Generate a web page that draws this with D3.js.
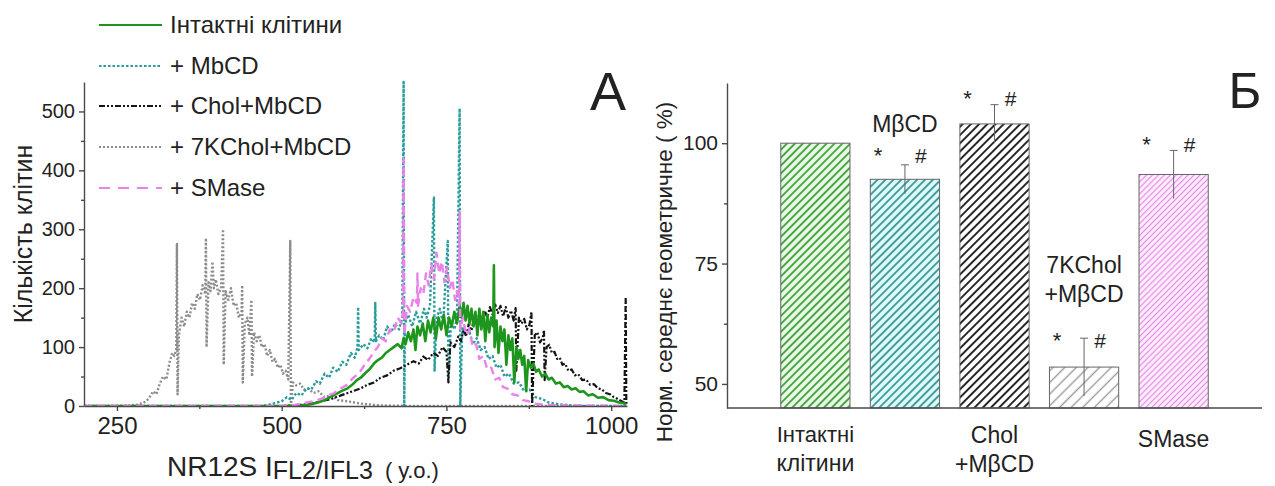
<!DOCTYPE html>
<html>
<head>
<meta charset="utf-8">
<script src="https://cdn.jsdelivr.net/npm/d3@7"></script>
<style>
    body { margin: 0; background: #fff; }
    svg { display: block; }
    text { font-family: "Liberation Sans", Arial, sans-serif; fill: #222; }
</style>
</head>
<body>
<svg id="chart" width="1275" height="486"></svg>
<script>
// Panel A: histograms, [channel, number of cells]
const intact = [[200,0],[500,0],[530,1],[545,3],[555,6],[565,10],[575,16],[585,22],[592,26],[600,30],[607,36],[614,44],[620,48],[627,56],[633,62],[640,72],[646,78],[652,82],[658,90],[664,95],[670,100],[676,105],[682,98],[685,115],[688,105],[692,125],[696,110],[700,130],[703,95],[706,135],[710,120],[714,140],[718,110],[722,145],[726,125],[730,150],[734,115],[738,150],[742,130],[746,155],[750,120],[754,150],[758,135],[762,160],[766,140],[770,170],[773,150],[776,175],[779,145],[782,170],[785,140],[788,165],[791,135],[794,160],[797,120],[800,165],[803,130],[806,160],[809,110],[812,155],[815,125],[818,150],[821,135],[822,239],[823,100],[826,145],[829,90],[832,135],[835,110],[838,130],[841,70],[844,120],[847,95],[850,115],[853,40],[856,100],[859,80],[862,95],[865,70],[868,85],[871,25],[874,78],[878,65],[882,72],[886,58],[890,62],[895,50],[900,55],[905,45],[910,48],[916,38],[922,40],[928,32],[934,34],[940,28],[946,30],[952,24],[958,25],[965,18],[972,20],[980,14],[988,15],[996,10],[1004,9],[1012,6],[1018,5],[1023,3]];

const mbcd = [[200,0],[470,0],[480,2],[490,5],[500,8],[508,15],[515,10],[522,22],[530,18],[538,30],[545,28],[552,42],[558,38],[565,55],[572,48],[578,65],[585,58],[592,75],[598,70],[605,90],[611,82],[615,100],[616,168],[617,95],[624,105],[630,98],[636,115],[641,108],[642,175],[643,110],[648,120],[654,112],[660,135],[666,125],[672,140],[678,130],[683,150],[685,550],[686,0],[687,140],[692,155],[698,135],[704,160],[710,140],[716,165],[720,150],[725,170],[731,354],[732,60],[735,150],[740,165],[745,140],[752,280],[753,50],[757,145],[762,130],[766,150],[770,505],[771,0],[774,135],[778,120],[784,130],[790,105],[796,115],[802,95],[808,100],[814,80],[820,85],[826,65],[832,70],[838,50],[845,55],[852,38],[860,40],[868,25],[876,28],[885,15],[895,12],[905,6],[920,3],[940,1],[960,0],[1023,0]];

const cholMbcd = [[200,0],[500,0],[530,2],[545,4],[560,8],[575,12],[590,18],[600,22],[610,26],[620,30],[630,36],[640,40],[650,48],[660,52],[670,60],[680,64],[690,70],[700,76],[708,72],[715,84],[722,78],[730,90],[737,85],[744,100],[750,92],[753,40],[756,108],[762,100],[768,118],[772,110],[776,130],[780,118],[784,140],[788,128],[792,150],[796,138],[800,158],[804,145],[808,162],[812,150],[816,168],[820,155],[824,172],[828,158],[832,170],[836,152],[840,168],[844,150],[848,162],[852,145],[855,166],[856,60],[860,150],[864,140],[868,148],[872,130],[876,138],[879,160],[880,0],[884,120],[888,125],[892,108],[896,115],[898,129],[899,44],[902,100],[906,104],[910,90],[914,92],[918,80],[922,82],[926,70],[930,72],[935,60],[940,62],[945,52],[950,54],[956,44],[962,45],[968,36],[974,37],[980,30],[986,28],[992,22],[998,20],[1004,15],[1010,12],[1016,8],[1020,6],[1022,185],[1023,0]];

const kcholMbcd = [[200,0],[260,0],[280,2],[290,5],[298,12],[305,25],[310,20],[315,38],[320,50],[325,45],[330,75],[334,90],[337,85],[340,95],[341,275],[342,20],[344,120],[348,150],[352,135],[356,160],[360,150],[364,175],[368,165],[372,190],[376,180],[380,205],[384,190],[385,285],[386,100],[389,210],[392,195],[395,245],[397,200],[400,215],[404,190],[408,200],[411,300],[412,70],[415,195],[419,180],[423,200],[427,170],[431,175],[435,150],[439,160],[440,205],[441,40],[444,140],[448,150],[451,120],[454,180],[455,50],[458,125],[462,110],[466,120],[470,100],[474,105],[478,85],[482,95],[486,75],[490,80],[494,65],[498,70],[502,55],[506,60],[510,45],[513,280],[514,0],[517,40],[522,35],[528,38],[534,28],[540,30],[548,22],[556,25],[565,15],[575,18],[585,10],[600,8],[620,4],[650,1],[700,0],[1023,0]];

const smase = [[200,0],[500,0],[520,2],[535,5],[548,8],[560,12],[570,18],[580,22],[590,30],[598,35],[606,45],[613,52],[620,60],[627,72],[633,80],[640,92],[646,100],[652,115],[658,110],[664,130],[670,125],[676,150],[682,140],[684,160],[685,420],[686,120],[690,170],[695,160],[700,185],[705,175],[706,225],[707,170],[711,200],[715,190],[719,225],[723,205],[727,240],[731,215],[735,260],[739,225],[743,245],[747,210],[751,235],[755,200],[759,215],[763,180],[766,195],[769,170],[770,330],[771,130],[775,150],[780,120],[785,130],[790,100],[795,105],[800,80],[806,85],[812,62],[818,65],[824,45],[830,48],[836,32],[842,30],[850,20],[858,18],[866,10],[875,8],[885,4],[900,2],[930,1],[1023,0]];

const seriesNames = ['Інтактні клітини', '+ MbCD', '+ Chol+MbCD', '+ 7KChol+MbCD', '+ SMase'];
const histXTicks = [250, 500, 750, 1000];
const histYTicks = [0, 100, 200, 300, 400, 500];

// Panel Б: normalised geometric mean
const barLabels = ['Інтактні клітини', '+ MβCD', 'Chol +MβCD', '7KChol +MβCD', 'SMase'];
const barValues = [100, 92.5, 104, 53.5, 93.5];
const barErrors = [0, 3, 4, 6, 5];
const barYTicks = [50, 75, 100];

const svg = d3.select('#chart');
const axisColor = '#4a4a4a';

// ---------- Panel A ----------
const x = d3.scaleLinear().domain([200, 1024]).range([84, 627]);
const y = d3.scaleLinear().domain([0, 550]).range([406, 82]);

// Style of each series (same order as seriesNames)
const styles = [
    {data: intact, color: '#1e961e', dash: null, width: 2.6},
    {data: mbcd, color: '#2a9c9c', dash: '2.5,2', width: 2.4},
    {data: cholMbcd, color: '#141414', dash: '6,2,2,2,2,2', width: 2.2},
    {data: kcholMbcd, color: '#8c8c8c', dash: '2,2', width: 2.4},
    {data: smase, color: '#ea82ea', dash: '8,5', width: 2.4}
];

svg.append('clipPath').attr('id', 'clipA')
    .append('rect').attr('x', 84).attr('y', 80).attr('width', 545).attr('height', 327);

const line = d3.line().x(d => x(d[0])).y(d => y(d[1]));

// Drawing order: gray, teal, black, green, pink
const plot = svg.append('g').attr('clip-path', 'url(#clipA)');
[3, 1, 2, 0, 4].forEach(i => {
    plot.append('path')
        .attr('d', line(styles[i].data))
        .attr('fill', 'none')
        .attr('stroke', styles[i].color)
        .attr('stroke-width', styles[i].width)
        .attr('stroke-dasharray', styles[i].dash)
        .attr('stroke-linejoin', 'round');
});

// Axes of panel A
const gxA = svg.append('g').attr('transform', 'translate(0,406)')
    .call(d3.axisBottom(x).tickValues(histXTicks).tickFormat(d3.format('d'))
        .tickSize(5).tickPadding(6).tickSizeOuter(0));
svg.append('g').attr('transform', 'translate(0,406)')
    .call(d3.axisBottom(x).tickValues([375, 625, 875]).tickSize(3).tickFormat('').tickSizeOuter(0))
    .select('.domain').remove();
gxA.selectAll('text').attr('font-size', 24);

const gyA = svg.append('g').attr('transform', 'translate(84,0)')
    .call(d3.axisLeft(y).tickValues(histYTicks).tickSize(5).tickPadding(4).tickSizeOuter(0));
svg.append('g').attr('transform', 'translate(84,0)')
    .call(d3.axisLeft(y).tickValues([50, 150, 250, 350, 450]).tickSize(3).tickFormat('').tickSizeOuter(0))
    .select('.domain').remove();
gyA.selectAll('text').attr('font-size', 20);

svg.selectAll('.domain, .tick line').attr('stroke', axisColor).attr('stroke-width', 1.4);
svg.selectAll('.tick text').style('fill', '#222');

// Axis titles of panel A
svg.append('text')
    .attr('transform', 'translate(32,234) rotate(-90)')
    .attr('text-anchor', 'middle')
    .attr('font-size', 25)
    .text('Кількість клітин');

const xTitle = svg.append('text').attr('x', 167).attr('y', 476).attr('font-size', 28);
xTitle.append('tspan').text('NR12S I');
xTitle.append('tspan').attr('font-size', 25).attr('dy', 3).text('FL2/IFL3');
xTitle.append('tspan').attr('font-size', 22).attr('dy', -1).attr('dx', 12).text('( у.о.)');

svg.append('text').attr('x', 608).attr('y', 110).attr('text-anchor', 'middle')
    .attr('font-size', 54).text('A');

// Legend
const legendY = [25, 66, 106, 147, 188];
seriesNames.forEach((name, i) => {
    svg.append('line')
        .attr('x1', 99).attr('x2', 162)
        .attr('y1', legendY[i]).attr('y2', legendY[i])
        .attr('stroke', styles[i].color)
        .attr('stroke-width', 2.2)
        .attr('stroke-dasharray', i === 4 ? '11,8' : styles[i].dash);
    svg.append('text')
        .attr('x', 170).attr('y', legendY[i] + 8)
        .attr('font-size', 24)
        .text(name);
});

// ---------- Panel Б ----------
const xb = d3.scaleBand().domain(barLabels).range([727, 1262]).paddingInner(0.227).paddingOuter(0.6);
const yb = d3.scaleLinear().domain([45, 112.5]).range([408, 83]);

// Hatch patterns: background, line colour, spacing, line width
const hatches = [
    {bg: '#e8f8e2', color: '#2a962a', gap: 5.6, w: 1.6},
    {bg: '#dcfafa', color: '#2a8a8a', gap: 5.6, w: 1.6},
    {bg: '#ffffff', color: '#141414', gap: 5.8, w: 1.8},
    {bg: '#ffffff', color: '#9a9a9a', gap: 8.2, w: 1.4},
    {bg: '#fdeffd', color: '#e68ae6', gap: 4.2, w: 1.2}
];
const defs = svg.append('defs');
hatches.forEach((h, i) => {
    const p = defs.append('pattern')
        .attr('id', 'hatch' + i)
        .attr('patternUnits', 'userSpaceOnUse')
        .attr('width', h.gap).attr('height', h.gap)
        .attr('patternTransform', 'rotate(45)');
    p.append('rect').attr('width', h.gap).attr('height', h.gap).attr('fill', h.bg);
    p.append('line').attr('x1', h.gap / 2).attr('x2', h.gap / 2).attr('y1', 0).attr('y2', h.gap)
        .attr('stroke', h.color).attr('stroke-width', h.w);
});

svg.selectAll('.bar')
    .data(barLabels)
    .enter().append('rect')
    .attr('class', 'bar')
    .attr('x', d => xb(d))
    .attr('width', xb.bandwidth())
    .attr('y', (d, i) => yb(barValues[i]))
    .attr('height', (d, i) => yb(45) - yb(barValues[i]))
    .attr('fill', (d, i) => `url(#hatch${i})`)
    .attr('stroke', '#666')
    .attr('stroke-width', 1);

// Error bars
barLabels.forEach((d, i) => {
    if (!barErrors[i]) return;
    const cx = xb(d) + xb.bandwidth() / 2;
    svg.append('line')
        .attr('x1', cx).attr('x2', cx)
        .attr('y1', yb(barValues[i] - barErrors[i])).attr('y2', yb(barValues[i] + barErrors[i]))
        .attr('stroke', '#666').attr('stroke-width', 1);
    svg.append('line')
        .attr('x1', cx - 4).attr('x2', cx + 4)
        .attr('y1', yb(barValues[i] + barErrors[i])).attr('y2', yb(barValues[i] + barErrors[i]))
        .attr('stroke', '#666').attr('stroke-width', 1);
});

// Axes of panel Б
const gyB = svg.append('g').attr('transform', 'translate(727,0)')
    .call(d3.axisLeft(yb).tickValues(barYTicks).tickSize(5).tickPadding(4).tickSizeOuter(0));
svg.append('g').attr('transform', 'translate(727,0)')
    .call(d3.axisLeft(yb).tickValues([62.5, 87.5]).tickSize(3).tickFormat('').tickSizeOuter(0))
    .select('.domain').remove();
gyB.selectAll('text').attr('font-size', 21).style('fill', '#222');
svg.append('line').attr('x1', 727).attr('x2', 1262).attr('y1', 408).attr('y2', 408)
    .attr('stroke', axisColor).attr('stroke-width', 1.4);
svg.selectAll('.domain, .tick line').attr('stroke', axisColor).attr('stroke-width', 1.4);

svg.append('text')
    .attr('transform', 'translate(672,272) rotate(-90)')
    .attr('text-anchor', 'middle')
    .attr('font-size', 22.5)
    .text('Норм. середнє геометричне ( %)');

// Category labels under the bars (only some of them are printed below)
const center = i => xb(barLabels[i]) + xb.bandwidth() / 2;
const below = [
    {i: 0, lines: ['Інтактні', 'клітини'], y: 442},
    {i: 2, lines: ['Chol', '+MβCD'], y: 443},
    {i: 4, lines: ['SMase'], y: 447}
];
below.forEach(b => {
    b.lines.forEach((t, k) => {
        svg.append('text').attr('x', center(b.i)).attr('y', b.y + k * 29)
            .attr('text-anchor', 'middle').attr('font-size', k === 0 && b.i === 0 ? 22 : 23).text(t);
    });
});

// Labels above the bars
svg.append('text').attr('x', center(1)).attr('y', 132).attr('text-anchor', 'middle')
    .attr('font-size', 23).text('MβCD');
svg.append('text').attr('x', center(3)).attr('y', 273).attr('text-anchor', 'middle')
    .attr('font-size', 23).text('7KChol');
svg.append('text').attr('x', center(3)).attr('y', 302).attr('text-anchor', 'middle')
    .attr('font-size', 23).text('+MβCD');

// Significance marks (* and #)
const markBase = [null, 163, 106, 348, 152];
barLabels.forEach((d, i) => {
    if (markBase[i] === null) return;
    const cx = center(i);
    svg.append('text').attr('x', cx - 27).attr('y', markBase[i]).attr('text-anchor', 'middle')
        .attr('font-size', 22).text('*');
    svg.append('text').attr('x', cx + 16).attr('y', markBase[i]).attr('text-anchor', 'middle')
        .attr('font-size', 21).text('#');
});

svg.append('text').attr('x', 1245).attr('y', 108).attr('text-anchor', 'middle')
    .attr('font-size', 50).text('Б');
</script>
</body>
</html>
